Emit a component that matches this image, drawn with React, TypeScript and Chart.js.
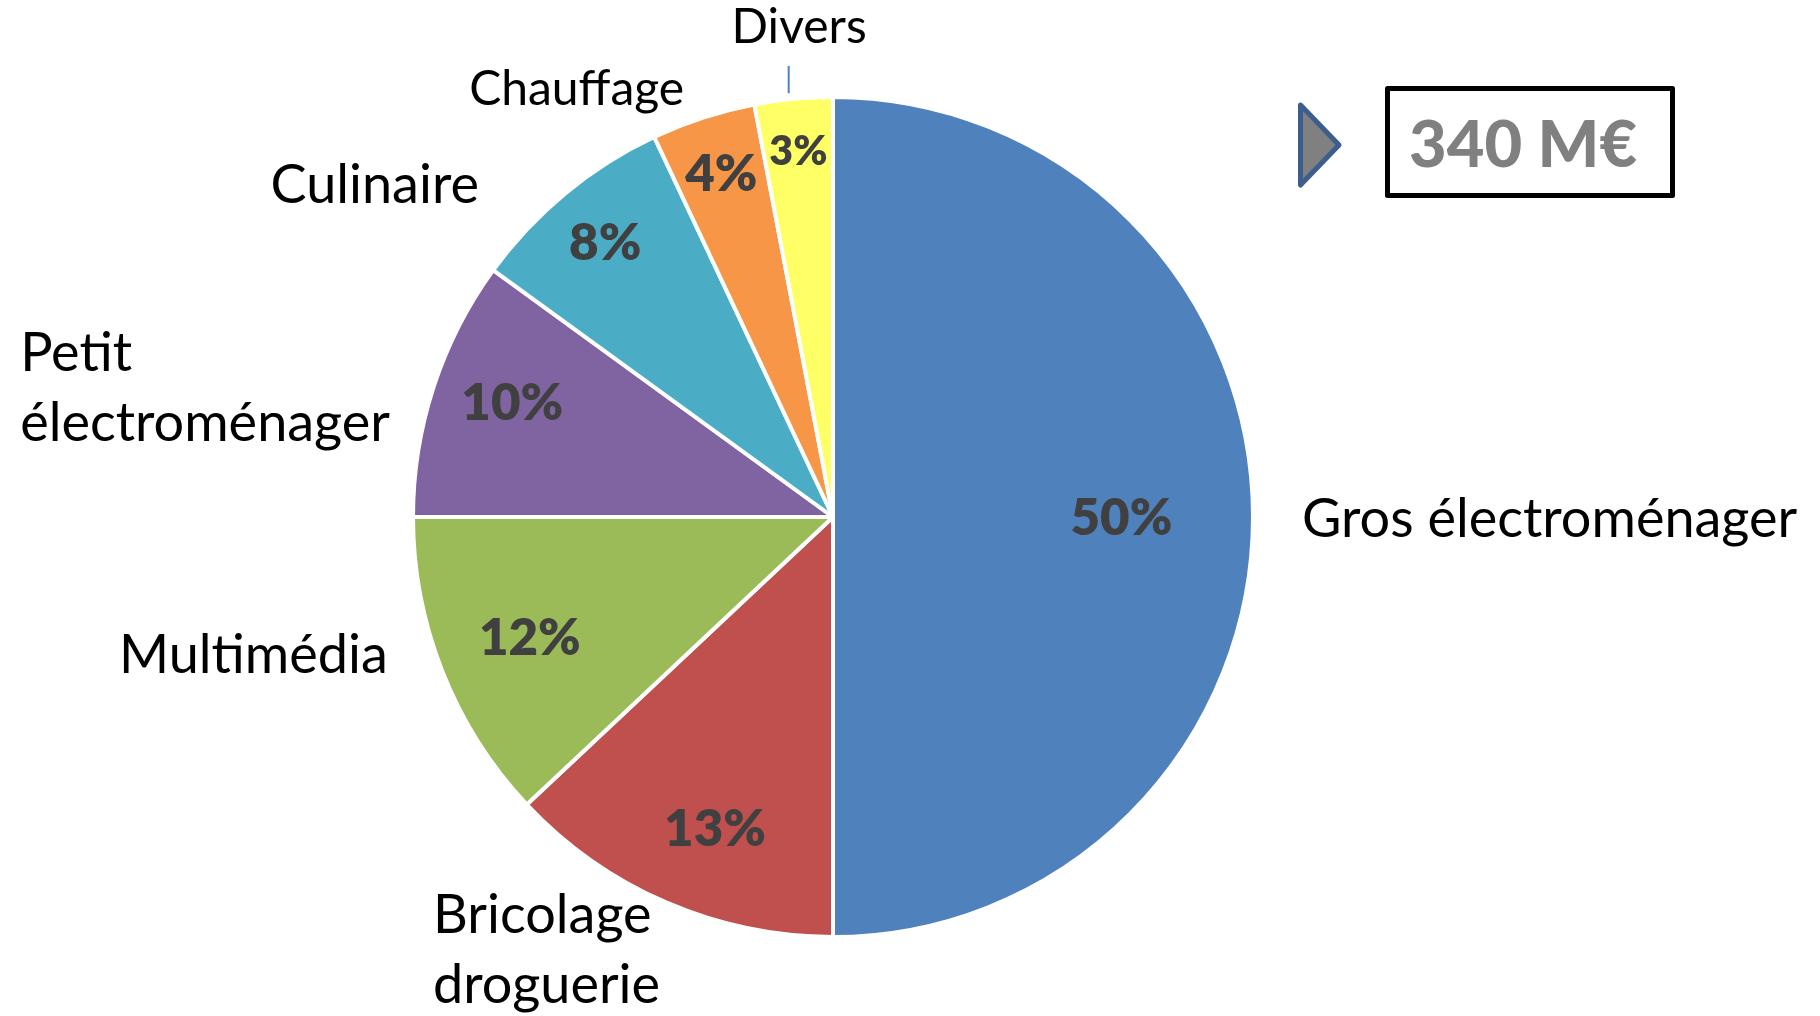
import React, { useEffect, useRef } from 'react';
import { Chart, registerables } from 'chart.js';

Chart.register(...registerables);

// ---- data ----
const categories = [
  'Gros électroménager',
  'Bricolage droguerie',
  'Multimédia',
  'Petit électroménager',
  'Culinaire',
  'Chauffage',
  'Divers',
];
const shares = [50, 13, 12, 10, 8, 4, 3];
const categoryLines = [
  ['Gros électroménager'],
  ['Bricolage', 'droguerie'],
  ['Multimédia'],
  ['Petit', 'électroménager'],
  ['Culinaire'],
  ['Chauffage'],
  ['Divers'],
];
const sliceColors = ['#4F81BD', '#C0504D', '#9BBB59', '#8064A2', '#4BACC6', '#F79646', '#FFFF66'];
const totalLabel = '340 M€';

// ---- label style / layout (relative to pie centre, in units of radius) ----
const FONT = 'Lato';
const CAP = 0.717; // cap height ratio
const pctRadius = [0.69, 0.795, 0.78, 0.815, 0.855, 0.865, 0.88];
const pctAngleShift = [0, -2.6, 0, 1.7, 0, 0, 0]; // degrees, clockwise
const pctSize = [51, 51, 51, 51, 51, 51, 41];
type Anchor = { ux: number; uy: number; align: 'left' | 'right' | 'center' | 'blockRight'; size: number };
const catAnchor: Anchor[] = [
  { ux: 1.122, uy: 0.048, align: 'left', size: 54 },
  { ux: -0.957, uy: 0.995, align: 'left', size: 54 },
  { ux: -1.065, uy: 0.373, align: 'right', size: 54 },
  { ux: -1.06, uy: -0.349, align: 'blockRight', size: 54 },
  { ux: -0.847, uy: -0.751, align: 'right', size: 54 },
  { ux: -0.356, uy: -0.986, align: 'right', size: 48 },
  { ux: -0.081, uy: -1.134, align: 'center', size: 48 },
];
const leader = { index: 6, ux: -0.106, uy0: -1.079, uy1: -1.014 };

const labelPlugin = {
  id: 'pieLabels',
  afterDatasetsDraw(chart: any) {
    const ctx: CanvasRenderingContext2D = chart.ctx;
    const meta = chart.getDatasetMeta(0);
    ctx.save();
    meta.data.forEach((arc: any, i: number) => {
      const p = arc.getProps(['x', 'y', 'startAngle', 'endAngle', 'outerRadius'], true);
      const r = p.outerRadius - 2;
      const mid = (p.startAngle + p.endAngle) / 2 + (pctAngleShift[i] * Math.PI) / 180;
      // percentage
      const size = pctSize[i];
      ctx.font = `800 ${size}px ${FONT}`;
      ctx.fillStyle = '#404040';
      ctx.textAlign = 'center';
      ctx.textBaseline = 'alphabetic';
      const px = p.x + Math.cos(mid) * r * pctRadius[i];
      const py = p.y + Math.sin(mid) * r * pctRadius[i];
      ctx.fillText(shares[i] + '%', px, py + (size * CAP) / 2);

      // category
      const a = catAnchor[i];
      ctx.font = `${a.size}px ${FONT}`;
      ctx.fillStyle = '#000000';
      const lines = categoryLines[i];
      const lh = a.size * 1.29;
      const ax = p.x + a.ux * r;
      const ay = p.y + a.uy * r;
      let x = ax;
      if (a.align === 'blockRight') {
        const w = Math.max(...lines.map((l) => ctx.measureText(l).width));
        x = ax - w;
        ctx.textAlign = 'left';
      } else {
        ctx.textAlign = a.align;
      }
      lines.forEach((l, k) => ctx.fillText(l, x, ay + k * lh));

      if (i === leader.index) {
        ctx.strokeStyle = '#4F81BD';
        ctx.lineWidth = 2;
        ctx.beginPath();
        ctx.moveTo(p.x + leader.ux * r, p.y + leader.uy0 * r);
        ctx.lineTo(p.x + leader.ux * r, p.y + leader.uy1 * r);
        ctx.stroke();
      }
    });

    // total box with pointer triangle
    ctx.lineJoin = 'round';
    ctx.fillStyle = '#808080';
    ctx.strokeStyle = '#3B5E8C';
    ctx.lineWidth = 5;
    ctx.beginPath();
    ctx.moveTo(1300.5, 105);
    ctx.lineTo(1339, 145);
    ctx.lineTo(1300.5, 185);
    ctx.closePath();
    ctx.fill();
    ctx.stroke();

    ctx.strokeStyle = '#000000';
    ctx.lineWidth = 5;
    ctx.strokeRect(1387.5, 88.5, 285, 107);
    ctx.font = `900 65px ${FONT}`;
    ctx.fillStyle = '#808080';
    ctx.textAlign = 'left';
    ctx.textBaseline = 'alphabetic';
    ctx.fillText(totalLabel, 1409, 167);
    ctx.restore();
  },
};

export default function App() {
  const ref = useRef<HTMLCanvasElement>(null);
  useEffect(() => {
    document.body.style.margin = '0';
    const chart = new Chart(ref.current as HTMLCanvasElement, {
      type: 'pie',
      data: {
        labels: categories,
        datasets: [
          {
            data: shares,
            backgroundColor: sliceColors,
            borderColor: '#FFFFFF',
            borderWidth: 4,
            radius: 420,
          } as any,
        ],
      },
      options: {
        responsive: false,
        animation: false,
        devicePixelRatio: 1,
        layout: { padding: { left: 413, right: 567, top: 97, bottom: 79 } },
        plugins: { legend: { display: false }, tooltip: { enabled: false } },
        events: [],
      },
      plugins: [labelPlugin],
    });
    return () => chart.destroy();
  }, []);
  return (
    <div style={{ position: 'absolute', left: 0, top: 0, width: 1820, height: 1016, background: '#FFFFFF' }}>
      <canvas ref={ref} width={1820} height={1016} style={{ display: 'block' }} />
    </div>
  );
}
